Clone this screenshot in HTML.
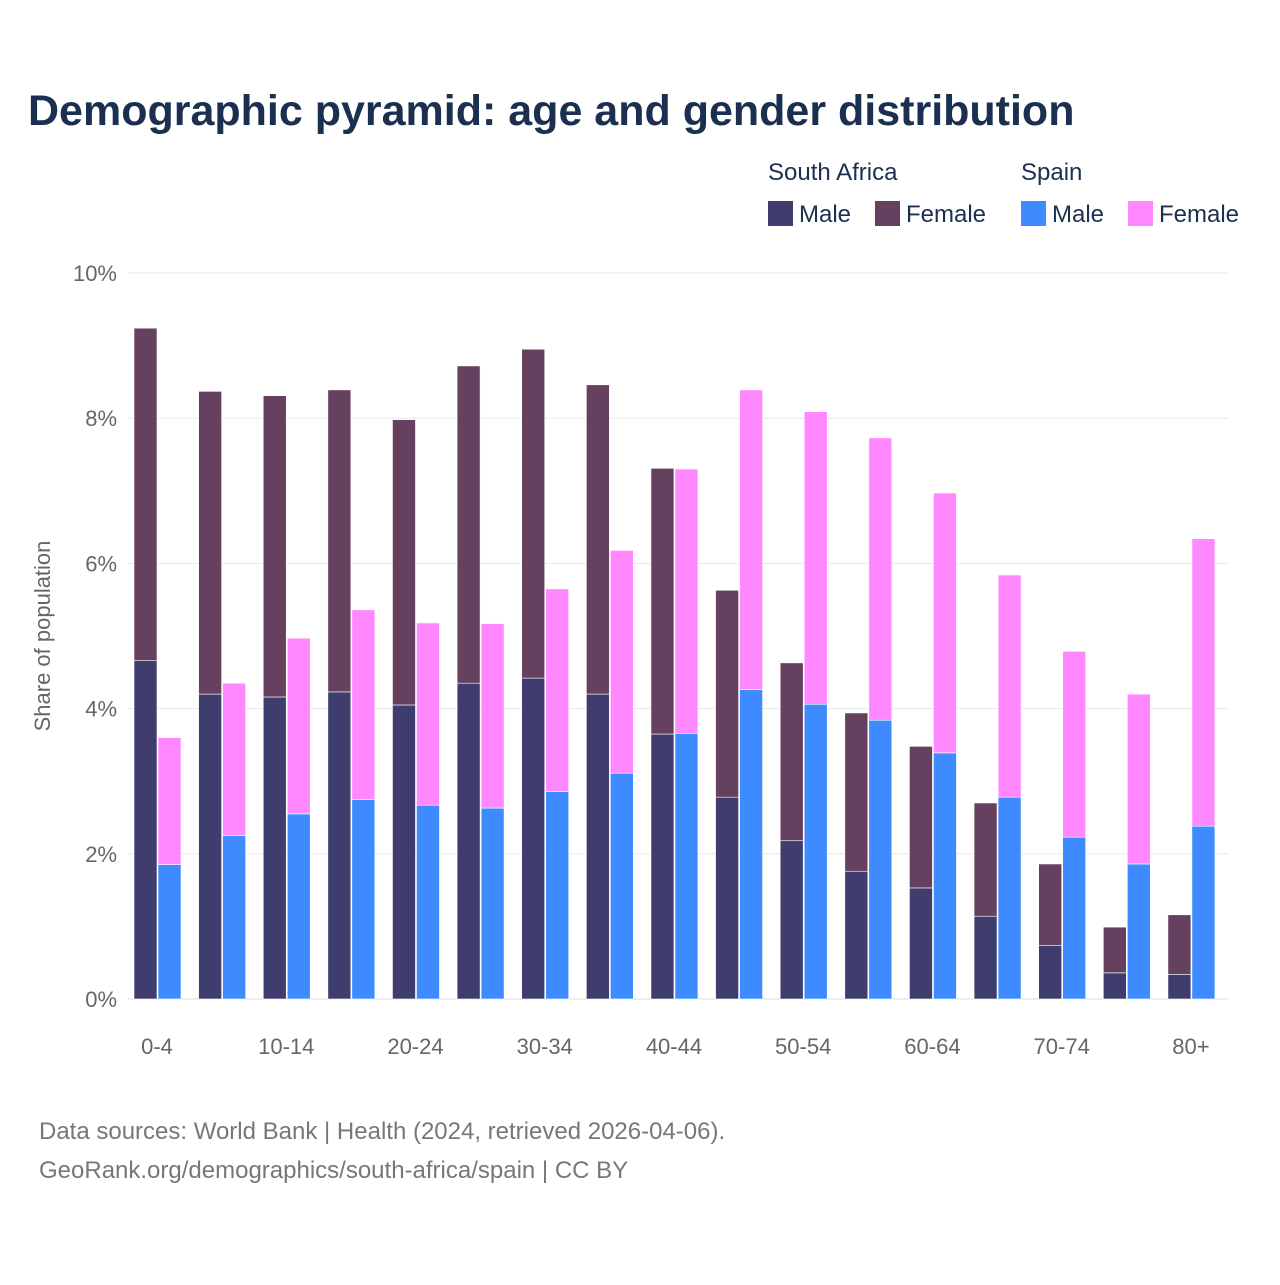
<!DOCTYPE html>
<html><head><meta charset="utf-8">
<style>
html,body{margin:0;padding:0;background:#fff;}
body{width:1280px;height:1280px;overflow:hidden;font-family:"Liberation Sans",sans-serif;}
svg text{font-family:"Liberation Sans",sans-serif;}
</style></head>
<body>
<svg id="chart" width="1280" height="1280" viewBox="0 0 1280 1280" xmlns="http://www.w3.org/2000/svg">
<rect width="1280" height="1280" fill="#fff"/>
<text x="28" y="125" font-size="43" font-weight="bold" fill="#1b3050">Demographic pyramid: age and gender distribution</text>
<g font-size="24" fill="#1b3050">
<text x="768" y="180">South Africa</text>
<text x="1021" y="180">Spain</text>
<g><rect x="768" y="201" width="25" height="25" fill="#3f3d6e"/><text x="799" y="222">Male</text></g>
<g><rect x="875" y="201" width="25" height="25" fill="#66405f"/><text x="906" y="222">Female</text></g>
<g><rect x="1021" y="201" width="25" height="25" fill="#3d8bff"/><text x="1052" y="222">Male</text></g>
<g><rect x="1128" y="201" width="25" height="25" fill="#ff88ff"/><text x="1159" y="222">Female</text></g>
</g>
<text transform="translate(50,636) rotate(-90)" text-anchor="middle" font-size="22" fill="#666">Share of population</text>
<g id="grid"></g><g id="bars"></g><g id="xticks"></g>
<text x="39" y="1139" font-size="24" fill="#777">Data sources: World Bank | Health (2024, retrieved 2026-04-06).</text>
<text x="39" y="1178" font-size="24" fill="#777">GeoRank.org/demographics/south-africa/spain | CC BY</text>
</svg>
<script>
const categories=["0-4","5-9","10-14","15-19","20-24","25-29","30-34","35-39","40-44","45-49","50-54","55-59","60-64","65-69","70-74","75-79","80+"];
const saMale=[4.66,4.20,4.16,4.23,4.05,4.35,4.42,4.20,3.65,2.78,2.18,1.76,1.53,1.14,0.74,0.36,0.34];
const saFemale=[4.58,4.17,4.15,4.16,3.93,4.37,4.53,4.26,3.66,2.85,2.45,2.18,1.95,1.56,1.12,0.63,0.82];
const esMale=[1.85,2.25,2.55,2.75,2.67,2.63,2.86,3.11,3.66,4.26,4.06,3.84,3.39,2.78,2.23,1.86,2.38];
const esFemale=[1.75,2.10,2.42,2.61,2.51,2.54,2.79,3.07,3.64,4.13,4.03,3.89,3.58,3.06,2.56,2.34,3.96];
const yTicks=[0,2,4,6,8,10];
const NS="http://www.w3.org/2000/svg";
const y0=999,pxPer=72.6;
const yS=v=>y0-v*pxPer;
const xC=i=>157+i*64.62;
const bw=23;
const grid=document.getElementById('grid'),bars=document.getElementById('bars'),xt=document.getElementById('xticks');
function mk(tag,attrs,parent){const e=document.createElementNS(NS,tag);for(const k in attrs)e.setAttribute(k,attrs[k]);parent.appendChild(e);return e;}
yTicks.forEach(t=>{
  const l=mk('line',{x1:128,x2:1228,y1:yS(t),y2:yS(t),stroke:t===0?'#ddd':'#e8e8e8','stroke-width':1},grid);
  
  
  const tx=mk('text',{x:117,y:yS(t)+8,'text-anchor':'end','font-size':22,fill:'#666'},grid);
  tx.textContent=t+'%';
  
  
});
function bar(x,v0,v1,color,name){
  const r=mk('rect',{x:x,y:yS(v1),width:bw,height:yS(v0)-yS(v1),fill:color,stroke:'#fff','stroke-width':0.6},bars);
  
  
}
categories.forEach((c,i)=>{
  const cx=xC(i);
  bar(cx-bw,0,saMale[i],'#3f3d6e','bar-sa-male-'+c);
  bar(cx-bw,saMale[i],saMale[i]+saFemale[i],'#66405f','bar-sa-female-'+c);
  bar(cx+1,0,esMale[i],'#3d8bff','bar-spain-male-'+c);
  bar(cx+1,esMale[i],esMale[i]+esFemale[i],'#ff88ff','bar-spain-female-'+c);
  if(i%2===0){
    const t=mk('text',{x:cx,y:1054,'text-anchor':'middle','font-size':22,fill:'#666'},xt);
    t.textContent=c;
    
    
  }
});
</script>
</body></html>
